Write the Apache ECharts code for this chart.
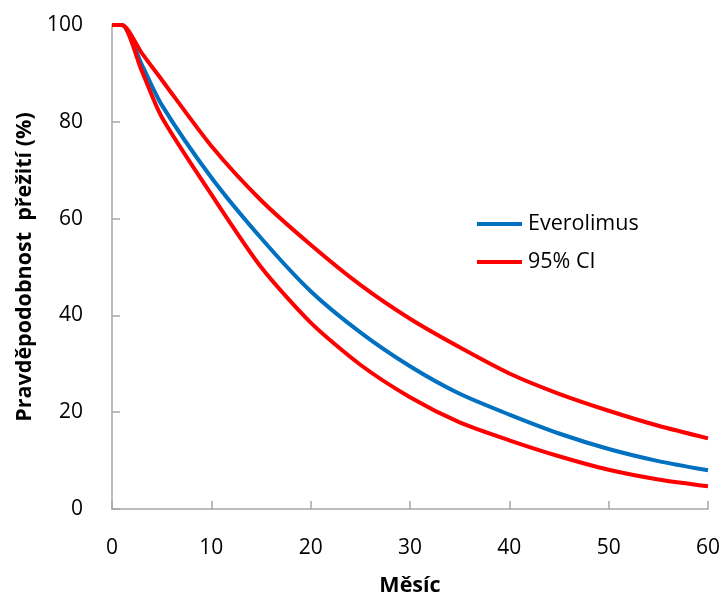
<!DOCTYPE html>
<html>
<head>
    <meta charset="utf-8">
    <title>Pravděpodobnost přežití</title>
    <script src="https://cdn.jsdelivr.net/npm/echarts@6/dist/echarts.min.js"></script>
    <style>
        html, body { margin: 0; padding: 0; background: #fff; }
        #main { width: 721px; height: 596px; }
    </style>
</head>
<body>
<div id="main"></div>
<script>
    // hodnoty
    var months = [0, 1, 3, 5, 10, 15, 20, 25, 30, 35, 40, 45, 50, 55, 60];
    var everolimus = [100, 100, 91.8, 83.5, 68.5, 56, 45, 36.5, 29.5, 23.8, 19.5, 15.6, 12.4, 9.9, 8.0];
    var ciUpper = [100, 100, 94.2, 88.7, 75, 63.8, 54.6, 46.3, 39.3, 33.4, 28, 23.8, 20.3, 17.2, 14.6];
    var ciLower = [100, 100, 90.5, 81, 65, 50, 38.5, 29.8, 23.1, 17.9, 14.2, 10.9, 8.1, 6.1, 4.7];
    var xTicks = [0, 10, 20, 30, 40, 50, 60];
    var yTicks = [0, 20, 40, 60, 80, 100];

    function pairs(ys) {
        return months.map(function (m, i) { return [m, ys[i]]; });
    }

    var font = '"Open Sans", "Noto Sans", sans-serif';
    var axisGrey = '#a6a6a6';

    function curve(name, color, ys, z) {
        return {
            name: name,
            type: 'line',
            data: pairs(ys),
            smooth: 0.25,
            symbol: 'none',
            z: z,
            lineStyle: {color: color, width: 4},
            itemStyle: {color: color}
        };
    }

    var option = {
        backgroundColor: '#fff',
        animation: false,
        grid: {left: 112, right: 13, top: 25, bottom: 87, outerBoundsMode: 'none'},
        legend: {
            data: ['Everolimus', '95% CI'],
            orient: 'vertical',
            left: 472,
            top: 208,
            icon: 'rect',
            itemWidth: 45,
            itemHeight: 4,
            itemGap: 16,
            textStyle: {fontFamily: font, fontSize: 21.5, color: '#000', padding: [0, 0, 0, 1]}
        },
        xAxis: {
            type: 'value',
            min: xTicks[0],
            max: xTicks[xTicks.length - 1],
            interval: 10,
            name: 'Měsíc',
            nameLocation: 'middle',
            nameGap: 66,
            nameTextStyle: {fontFamily: font, fontSize: 21.5, fontWeight: 'bold', color: '#000'},
            axisLine: {lineStyle: {color: axisGrey, width: 1.5}},
            axisTick: {inside: true, length: 8, lineStyle: {color: axisGrey, width: 1.5}},
            axisLabel: {margin: 29, fontFamily: font, fontSize: 21, color: '#000'},
            splitLine: {show: false}
        },
        yAxis: {
            type: 'value',
            min: yTicks[0],
            max: yTicks[yTicks.length - 1],
            interval: 20,
            name: 'Pravděpodobnost  přežití (%)',
            nameLocation: 'middle',
            nameGap: 71,
            nameTextStyle: {fontFamily: font, fontSize: 21.5, fontWeight: 'bold', color: '#000'},
            axisLine: {show: true, lineStyle: {color: axisGrey, width: 1.5}},
            axisTick: {show: true, inside: true, length: 8, lineStyle: {color: axisGrey, width: 1.5}},
            axisLabel: {margin: 29, fontFamily: font, fontSize: 21, color: '#000'},
            splitLine: {show: false}
        },
        series: [
            curve('Everolimus', '#0070c0', everolimus, 2),
            curve('95% CI', '#ff0000', ciUpper, 3),
            curve('95% CI', '#ff0000', ciLower, 3)
        ]
    };

    var chart = echarts.init(document.getElementById('main'));
    chart.setOption(option);
</script>
</body>
</html>
